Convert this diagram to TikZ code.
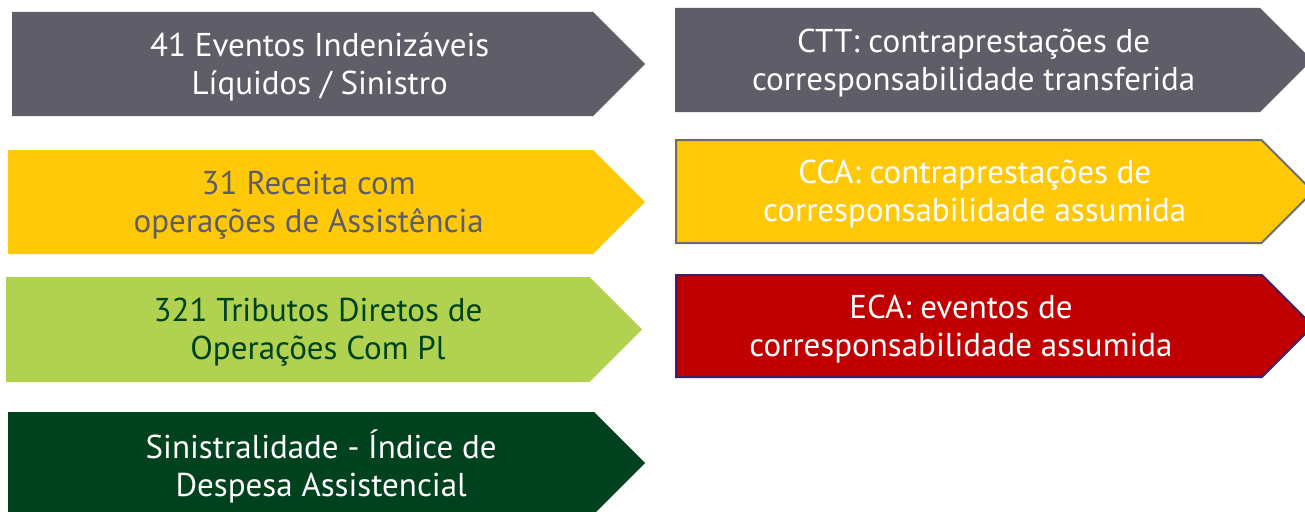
\documentclass[tikz,border=0pt]{standalone}
\usepackage{fontspec}
\setmainfont{PT Sans}
\usepackage{tikz}
\usetikzlibrary{positioning, shapes.symbols}

\definecolor{slate}{RGB}{94,93,104}
\definecolor{gold}{RGB}{255,201,10}
\definecolor{lime}{RGB}{176,210,80}
\definecolor{forest}{RGB}{1,66,30}
\definecolor{crimson}{RGB}{192,0,0}
\definecolor{plum}{RGB}{64,30,100}

\tikzstyle{arrowbox} = [signal, signal to=east, signal pointer angle=90, anchor=west,
    minimum width=636pt, minimum height=104pt, inner sep=0pt, draw=none]
\tikzstyle{boxtext} = [align=center, font=\fontsize{33}{38}\selectfont]

\begin{document}
\begin{tikzpicture}[x=1pt, y=-1pt]
                      \useasboundingbox (0,0) rectangle (1305,511);

                      % Left column
                      \node [arrowbox, fill=slate, minimum width=633pt] (eventos) at (12,64) {};
                      \node [arrowbox, fill=gold, minimum width=637pt] (receita) at (8,202) {};
                      \node [arrowbox, fill=lime, minimum height=105pt] (tributos) at (6,329.5) {};
                      \node [arrowbox, fill=forest, minimum width=637pt, minimum height=102pt] (sinistr) at (8,463) {};

                      \node [boxtext, text=white] (eventos-t) at ([shift={(17,3)}]eventos.center) {41 Eventos Indenizáveis\\Líquidos / Sinistro};
                      \node [boxtext, text=slate] (receita-t) at ([shift={(8,3)}]receita.center) {31 Receita com\\operações de Assistência};
                      \node [boxtext, text=forest] (tributos-t) at ([shift={(20,3)}]tributos.center) {321 Tributos Diretos de\\Operações Com Pl};
                      \node [boxtext, text=white] (sinistr-t) at ([shift={(20,3)}]sinistr.center) {Sinistralidade - Índice de\\Despesa Assistencial};

                      % Right column
                      \node [arrowbox, fill=slate, minimum width=637pt] (ctt) at (675,60) {};
                      \node [arrowbox, fill=gold, draw=gray!85!black, line width=2pt, minimum width=637pt, minimum height=103pt] (cca) at (675,191.5) {};
                      \node [arrowbox, fill=crimson, draw=plum, line width=2pt, minimum width=637pt, minimum height=102pt] (eca) at (675,326) {};

                      \node [boxtext, text=white] (ctt-t) at ([shift={(6,3)}]ctt.center) {CTT: contraprestações de\\corresponsabilidade transferida};
                      \node [boxtext, text=white] (cca-t) at ([shift={(6,3)}]cca.center) {CCA: contraprestações de\\corresponsabilidade assumida};
                      \node [boxtext, text=white] (eca-t) at ([shift={(-8,3)}]eca.center) {ECA: eventos de\\corresponsabilidade assumida};

                  \end{tikzpicture}
\end{document}
